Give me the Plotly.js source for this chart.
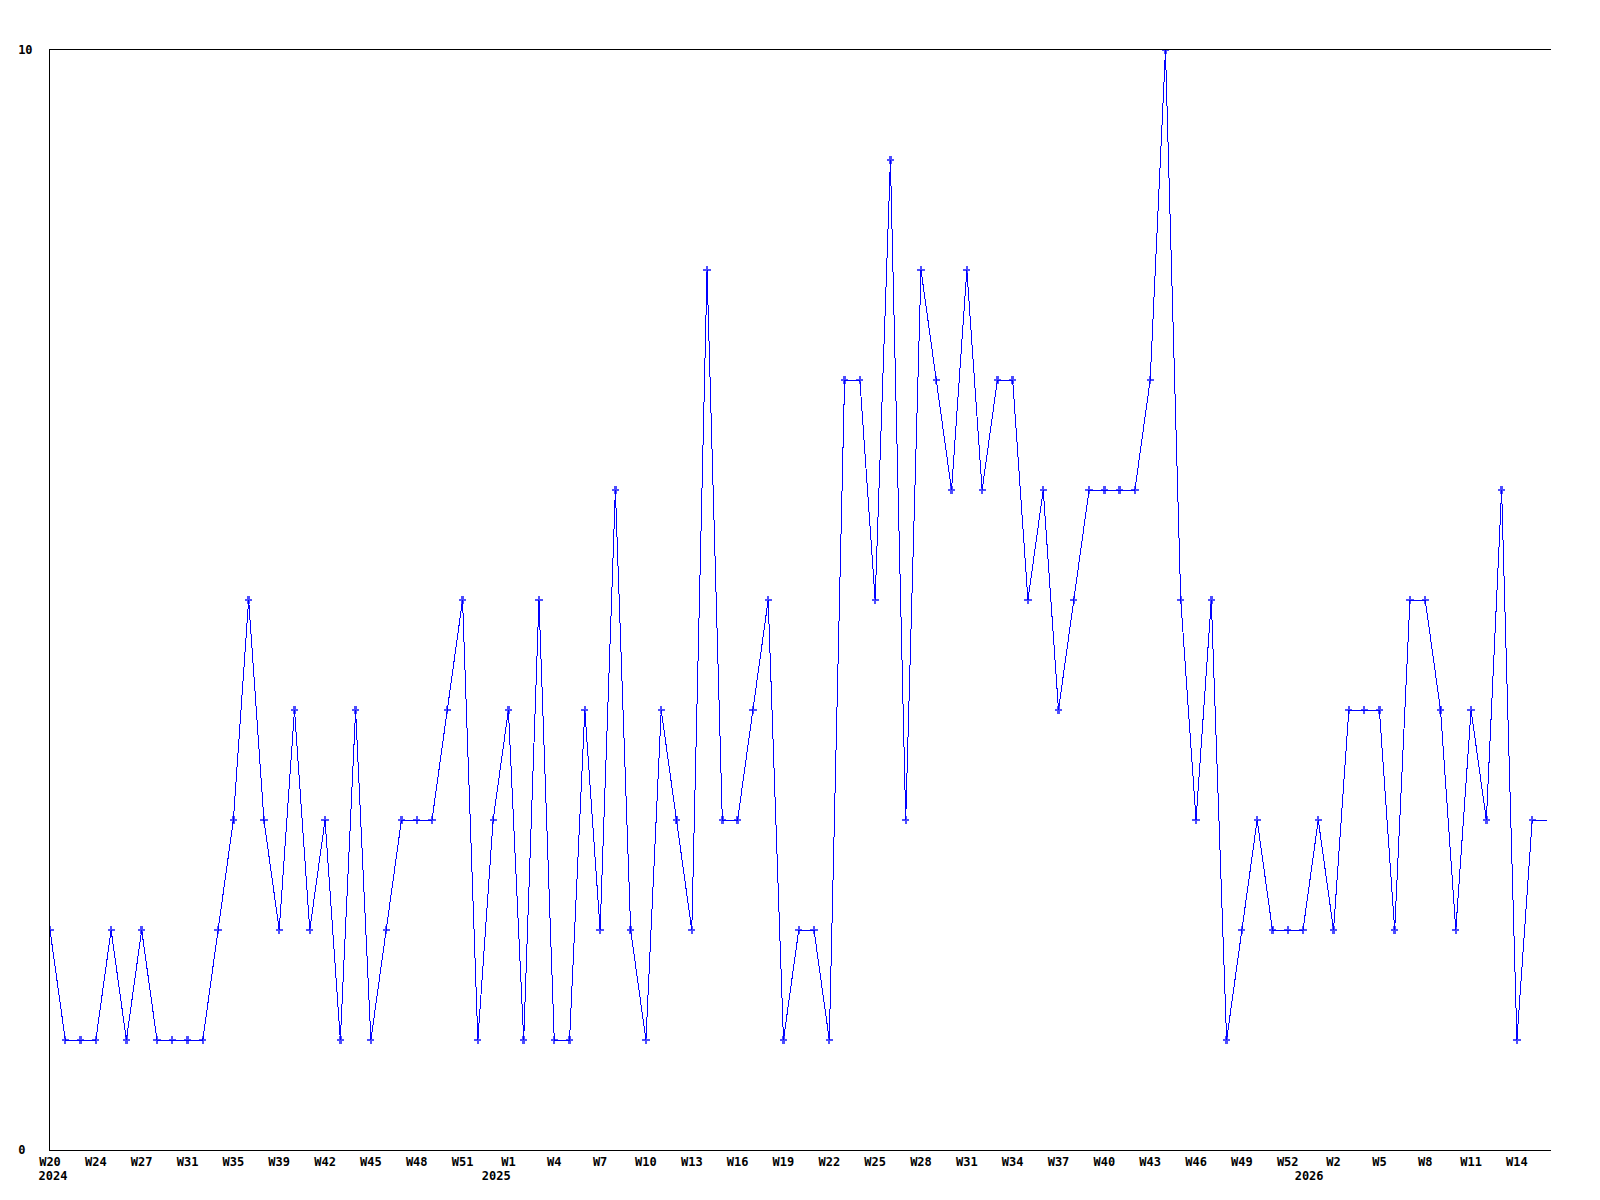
<!DOCTYPE html>
<html>
<head>
<meta charset="utf-8">
<script src="https://cdn.plot.ly/plotly-3.0.1.min.js"></script>
<style>
html,body{margin:0;padding:0;background:#fff;}
#chart{width:1600px;height:1200px;}
#chart .scatterlayer path{shape-rendering:crispEdges;}
</style>
</head>
<body>
<div id="chart"></div>
<script>
// Weekly counts, one value per week (index 0 = first week shown)
const values = [2,1,1,1,2,1,2,1,1,1,1,2,3,5,3,2,4,2,3,1,4,1,2,3,3,3,4,5,1,3,4,1,5,1,1,4,2,6,2,1,4,3,2,8,3,3,4,5,1,2,2,1,7,7,5,9,3,8,7,6,8,6,7,7,5,6,4,5,6,6,6,6,7,10,5,3,5,1,2,3,2,2,2,3,2,4,4,4,2,5,5,4,2,4,3,6,1,3,3];
const weekIndex = values.map((v, i) => i);

// X tick labels (every third week)
const weekTickPos = [0,3,6,9,12,15,18,21,24,27,30,33,36,39,42,45,48,51,54,57,60,63,66,69,72,75,78,81,84,87,90,93,96];
const weekLabels = ["W20","W24","W27","W31","W35","W39","W42","W45","W48","W51","W1","W4","W7","W10","W13","W16","W19","W22","W25","W28","W31","W34","W37","W40","W43","W46","W49","W52","W2","W5","W8","W11","W14"];

// Year labels (second label row)
const yearPos = [0.2, 29.2, 82.4];
const yearLabels = ["2024","2025","2026"];

// Y axis labels
const yTickVals = [0, 10];
const yTickText = ["0\u00a0", "10"];

const blue = "#0000ff";
const tickFont = {family: "DejaVu Sans Mono, monospace", size: 12, color: "#000", weight: "bold"};
const xRange = [0, 98.23];

const markerSizes = values.map((v, i) => i === values.length - 1 ? 0 : 6);

const data = [
  {
    type: "scatter",
    mode: "lines+markers",
    x: weekIndex,
    y: values,
    line: {color: blue, width: 1},
    marker: {symbol: "cross", size: markerSizes, color: blue, line: {width: 0}},
    cliponaxis: true,
    hoverinfo: "skip",
    showlegend: false
  },
  {
    type: "scatter",
    mode: "markers",
    x: yearPos,
    y: yearPos.map(() => null),
    xaxis: "x2",
    hoverinfo: "skip",
    showlegend: false
  }
];

const layout = {
  width: 1600,
  height: 1200,
  margin: {l: 50, r: 49, t: 50, b: 50, pad: 0},
  paper_bgcolor: "#fff",
  plot_bgcolor: "#fff",
  showlegend: false,
  hovermode: false,
  xaxis: {
    range: xRange,
    tickmode: "array",
    tickvals: weekTickPos,
    ticktext: weekLabels,
    tickfont: tickFont,
    ticks: "",
    showgrid: false,
    zeroline: false,
    showline: true,
    mirror: true,
    linecolor: "#000",
    linewidth: 1,
    ticklabelstandoff: 1
  },
  xaxis2: {
    overlaying: "x",
    anchor: "y",
    side: "bottom",
    range: xRange,
    tickmode: "array",
    tickvals: yearPos,
    ticktext: yearLabels,
    tickfont: tickFont,
    ticks: "",
    showgrid: false,
    zeroline: false,
    showline: false,
    ticklabelstandoff: 17
  },
  yaxis: {
    range: [0, 10],
    tickmode: "array",
    tickvals: yTickVals,
    ticktext: yTickText,
    tickfont: tickFont,
    ticks: "",
    showgrid: false,
    zeroline: false,
    showline: true,
    linecolor: "#000",
    linewidth: 1,
    ticklabelstandoff: 14
  }
};

Plotly.newPlot("chart", data, layout, {displayModeBar: false, staticPlot: true});
</script>
</body>
</html>
